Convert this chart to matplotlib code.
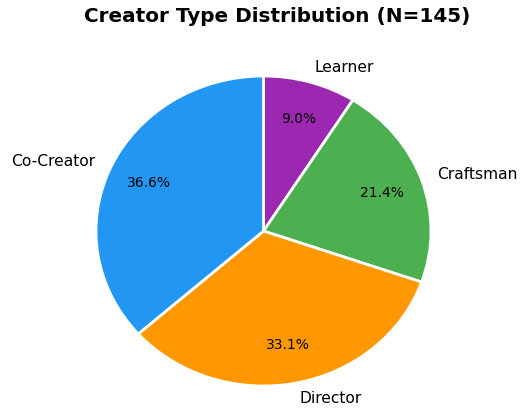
import matplotlib
matplotlib.use("Agg")
import matplotlib.pyplot as plt

labels = ['Learner', 'Craftsman', 'Director', 'Co-Creator']
counts = [13, 31, 48, 53]
colors = ['#9C27B0', '#4CAF50', '#FF9800', '#2196F3']
N = sum(counts)

fig = plt.figure(figsize=(5.29, 4.12), dpi=100)
W, H = 529, 412
# pie box in pixels: x 96..431, y 76..386 (from top)
ax = fig.add_axes([96 / W, (H - 386) / H, (431 - 96) / W, (386 - 76) / H])
wedges, texts, autotexts = ax.pie(counts, labels=labels, colors=colors,
                                  autopct='%1.1f%%', startangle=90, counterclock=False,
                                  pctdistance=0.75, labeldistance=1.1,
                                  wedgeprops=dict(edgecolor='white', linewidth=2),
                                  textprops=dict(fontsize=11.2))
for t in autotexts:
    t.set_fontsize(10)
for t in texts:
    t.set_clip_on(False)
ax.set_aspect('auto')
ax.set_xlim(-1, 1)
ax.set_ylim(-1, 1)
fig.text(277 / W, 1 - 16 / H, f'Creator Type Distribution (N={N})', ha='center', va='center',
         fontsize=14.4, fontweight='bold')
fig.savefig('out.png', dpi=100)
